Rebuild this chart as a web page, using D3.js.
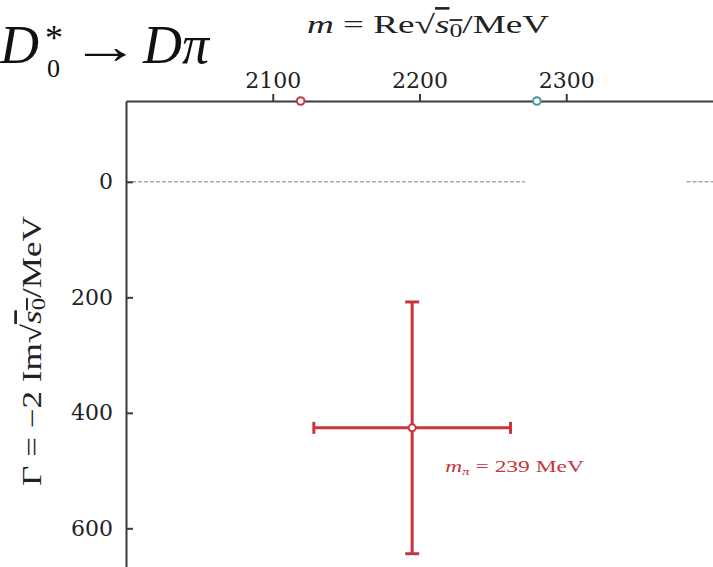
<!DOCTYPE html>
<html>
<head>
<meta charset="utf-8">
<script src="https://cdn.jsdelivr.net/npm/d3@7"></script>
<style>
  body { margin: 0; background: #fff; }
  svg { display: block; }
  .tick text { font-family: "DejaVu Serif", serif; font-size: 22px; fill: #222; }
</style>
</head>
<body>
<div id="chart"></div>
<script>
// Data
const massTicks = [2100, 2200, 2300];
const widthTicks = [0, 200, 400, 600];
const poleMass = [2195];
const poleMassErr = [67];
const poleWidth = [426];
const poleWidthErr = [218];
const poleLabels = ["239 MeV"];
const thresholdMass = [2119, 2280];
const thresholdColors = ["#c9353d", "#4b9a9b"];
const zeroLineSegments = [[2000, 2272], [2382, 2400]];

// Chart variables
const W = 713, H = 567;
const red = "#c9353d";
const axisColor = "#3a3a3a";
const serif = "Liberation Serif, serif";
const stretch = 1.38; // glyphs in the original are wide

const svg = d3.select("#chart").append("svg")
    .attr("width", W)
    .attr("height", H);

// Scales
const x = d3.scaleLinear().domain([2000, 2400]).range([126, 713]);
const y = d3.scaleLinear().domain([-140, 667]).range([101, 567]);

// zero line (dashed)
svg.selectAll(".zero")
    .data(zeroLineSegments)
    .enter().append("line")
    .attr("x1", d => x(d[0]))
    .attr("x2", d => x(d[1]))
    .attr("y1", y(0))
    .attr("y2", y(0))
    .attr("stroke", "#aaa")
    .attr("stroke-width", 1.5)
    .attr("stroke-dasharray", "4,2");

// top axis
const xAxis = d3.axisTop(x)
    .tickValues(massTicks)
    .tickSize(7)
    .tickSizeOuter(0)
    .tickPadding(6)
    .tickFormat(d3.format("d"));

const gx = svg.append("g")
    .attr("transform", "translate(0," + y(-140) + ")")
    .call(xAxis);
gx.select(".domain").attr("stroke", axisColor).attr("stroke-width", 2);
gx.selectAll(".tick line").attr("stroke", axisColor).attr("stroke-width", 2);

// left axis
const yAxis = d3.axisLeft(y)
    .tickValues(widthTicks)
    .tickSize(-7)
    .tickSizeOuter(0)
    .tickPadding(13);

const gy = svg.append("g")
    .attr("transform", "translate(" + x(2000) + ",0)")
    .call(yAxis);
gy.select(".domain").attr("stroke", axisColor).attr("stroke-width", 2);
gy.selectAll(".tick line").attr("stroke", axisColor).attr("stroke-width", 2);

// error bars
const pts = poleMass.map((m, i) => ({m: m, dm: poleMassErr[i], g: poleWidth[i], dg: poleWidthErr[i], label: poleLabels[i]}));
const eb = svg.selectAll(".pole").data(pts).enter().append("g")
    .attr("stroke", red).attr("stroke-width", 3).attr("fill", "none");

eb.append("line")
    .attr("x1", d => x(d.m - d.dm)).attr("x2", d => x(d.m + d.dm))
    .attr("y1", d => y(d.g)).attr("y2", d => y(d.g));
eb.append("line")
    .attr("x1", d => x(d.m)).attr("x2", d => x(d.m))
    .attr("y1", d => y(d.g - d.dg)).attr("y2", d => y(d.g + d.dg));
// caps
[-1, 1].forEach(s => {
  eb.append("line")
    .attr("x1", d => x(d.m + s * d.dm)).attr("x2", d => x(d.m + s * d.dm))
    .attr("y1", d => y(d.g) - 6).attr("y2", d => y(d.g) + 6);
  eb.append("line")
    .attr("x1", d => x(d.m) - 7).attr("x2", d => x(d.m) + 7)
    .attr("y1", d => y(d.g + s * d.dg)).attr("y2", d => y(d.g + s * d.dg));
});
eb.append("circle")
    .attr("cx", d => x(d.m)).attr("cy", d => y(d.g))
    .attr("r", 3.5).attr("fill", "#fff").attr("stroke-width", 2);

// label
const lab = svg.selectAll(".plab").data(pts).enter().append("text")
    .attr("transform", d => "translate(" + (x(d.m) + 33) + "," + (y(d.g) + 44) + ") scale(" + stretch + ",1)")
    .attr("fill", red)
    .attr("font-family", serif)
    .attr("font-size", 17);
lab.append("tspan").attr("font-style", "italic").text("m");
lab.append("tspan").attr("font-style", "italic").attr("font-size", 11).attr("dy", 3).text("π");
lab.append("tspan").attr("dy", -3).text(d => " = " + d.label);

// threshold circles on top axis
svg.selectAll(".thr")
    .data(thresholdMass)
    .enter().append("circle")
    .attr("cx", d => x(d))
    .attr("cy", y(-140))
    .attr("r", 3.8)
    .attr("fill", "#fff")
    .attr("stroke", (d, i) => thresholdColors[i])
    .attr("stroke-width", 2);

// title  D*_0 -> D pi
const tg = svg.append("g")
    .attr("font-family", serif)
    .attr("fill", "#111");
tg.append("text").attr("x", 0).attr("y", 63)
    .attr("font-size", 54).attr("font-style", "italic").text("D");
tg.append("text").attr("x", 47).attr("y", 77)
    .attr("font-size", 26).text("0");
tg.append("text").attr("x", 45).attr("y", 50)
    .attr("font-size", 36).text("*");
tg.append("text").attr("transform", "translate(71,63) scale(1.38,1)")
    .attr("font-size", 50).text("→");
tg.append("text").attr("x", 143).attr("y", 63)
    .attr("font-size", 54).attr("font-style", "italic").text("Dπ");

// x axis title
const xt = svg.append("text")
    .attr("transform", "translate(428,33) scale(1.43,1)")
    .attr("text-anchor", "middle")
    .attr("font-family", serif)
    .attr("font-size", 26)
    .attr("fill", "#222");
xt.append("tspan").attr("font-style", "italic").text("m");
xt.append("tspan").text(" = Re√");
xt.append("tspan").attr("font-style", "italic").style("text-decoration", "overline").text("s");
xt.append("tspan").style("text-decoration", "overline").attr("font-size", 18).attr("dy", 4).text("0");
xt.append("tspan").attr("dy", -4).text("/MeV");

// y axis title
const yt = svg.append("text")
    .attr("transform", "translate(41,351) rotate(-90) scale(1.3,1)")
    .attr("text-anchor", "middle")
    .attr("font-family", serif)
    .attr("font-size", 27)
    .attr("fill", "#222");
yt.append("tspan").text("Γ = −2 Im√");
yt.append("tspan").attr("font-style", "italic").style("text-decoration", "overline").text("s");
yt.append("tspan").style("text-decoration", "overline").attr("font-size", 19).attr("dy", 4).text("0");
yt.append("tspan").attr("dy", -4).text("/MeV");
</script>
</body>
</html>
